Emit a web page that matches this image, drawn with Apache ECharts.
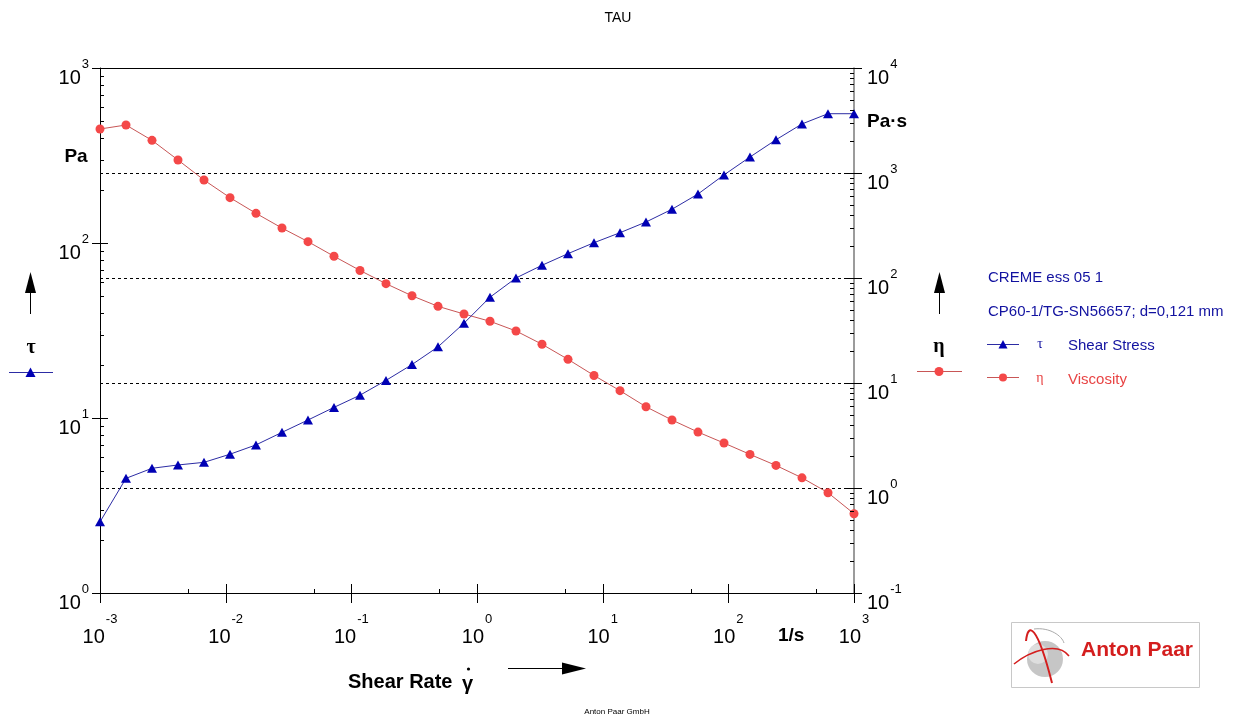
<!DOCTYPE html>
<html>
<head>
<meta charset="utf-8">
<script src="https://cdn.jsdelivr.net/npm/echarts@6/dist/echarts.min.js"></script>
<style>
html,body{margin:0;padding:0;background:#fff;}
#c{width:1237px;height:718px;}
</style>
</head>
<body>
<div id="c"></div>
<script>
// ---------------- data ----------------
const shearRate = [0.001, 0.00161, 0.002593, 0.004175, 0.006723, 0.01083, 0.01743, 0.02807, 0.0452, 0.07279,
  0.1172, 0.1887, 0.3039, 0.4894, 0.788, 1.269, 2.043, 3.29, 5.298, 8.532,
  13.74, 22.12, 35.62, 57.36, 92.36, 148.7, 239.5, 385.6, 620.9, 1000];
const shearStress = [2.55, 4.52, 5.16, 5.39, 5.58, 6.21, 7.02, 8.28, 9.74, 11.5,
  13.5, 16.4, 20.2, 25.5, 34.8, 49.0, 63.1, 74.6, 86.9, 100.4,
  114.5, 131.8, 155.9, 190.5, 245, 310, 389, 479, 548, 548];
const viscosity = [2624, 2866, 2046, 1330, 857, 582, 413, 299, 222, 161,
  118, 88.3, 67.7, 53.7, 45.4, 38.7, 31.3, 23.4, 16.8, 11.8,
  8.45, 5.94, 4.44, 3.41, 2.68, 2.09, 1.64, 1.25, 0.902, 0.569];

const xDecades = [-3, -2, -1, 0, 1, 2, 3];
const tauDecades = [0, 1, 2, 3];
const etaDecades = [-1, 0, 1, 2, 3, 4];

const titleText = 'TAU';
const sampleName = 'CREME ess 05 1';
const measInfo = 'CP60-1/TG-SN56657; d=0,121 mm';
const tauName = 'Shear Stress';
const etaName = 'Viscosity';
const xTitle = 'Shear Rate';
const footer = 'Anton Paar GmbH';
const logoText = 'Anton Paar';

// ---------------- style ----------------
const SANS = '"Liberation Sans", Arial, sans-serif';
const SERIF = '"Liberation Serif", "Times New Roman", serif';
const BLUE = '#0000b4';
const BLUE_LINE = '#2c2ca4';
const BLUE_TEXT = '#1212a0';
const RED = '#f44848';
const RED_LINE = '#c85656';
const RED_TEXT = '#e84444';

const xMin = Math.pow(10, xDecades[0]), xMax = Math.pow(10, xDecades[xDecades.length - 1]);
const tauMin = Math.pow(10, tauDecades[0]), tauMax = Math.pow(10, tauDecades[tauDecades.length - 1]);
const etaMin = Math.pow(10, etaDecades[0]), etaMax = Math.pow(10, etaDecades[etaDecades.length - 1]);

function powLabel(v) {
  const e = Math.round(Math.log10(v));
  return '{b|10}{s|' + e + '}';
}
function rich(lh) {
  return {
    b: {fontFamily: SANS, fontSize: 20, lineHeight: lh, verticalAlign: 'bottom', color: '#000'},
    s: {fontFamily: SANS, fontSize: 13, lineHeight: 13, verticalAlign: 'top', color: '#000', padding: [0, 0, 0, 1]}
  };
}

const chart = echarts.init(document.getElementById('c'), null, {renderer: 'canvas'});

function px(v) { return Math.round(v) + 0.5; }
function tl(x1, y1, x2, y2) {
  return {type: 'line', shape: {x1: x1, y1: y1, x2: x2, y2: y2}, style: {stroke: '#000', lineWidth: 1}, silent: true};
}

function ticksLeftBottom(params, api) {
  const ch = [];
  // bottom axis
  xDecades.forEach(function (e, i) {
    const p = api.coord([Math.pow(10, e), tauMin]);
    const x = px(p[0]), y = Math.round(p[1]);
    ch.push(tl(x, y - 9, x, y + 10));
    if (i < xDecades.length - 1) {
      const q = api.coord([5 * Math.pow(10, e), tauMin]);
      ch.push(tl(px(q[0]), y - 4, px(q[0]), y));
    }
  });
  // left axis
  tauDecades.forEach(function (e, i) {
    const p = api.coord([xMin, Math.pow(10, e)]);
    const x = Math.round(p[0]), y = px(p[1]);
    ch.push(tl(x - 8, y, x + 8, y));
    if (i < tauDecades.length - 1) {
      for (let k = 2; k <= 9; k++) {
        const q = api.coord([xMin, k * Math.pow(10, e)]);
        ch.push(tl(x, px(q[1]), x + 4, px(q[1])));
      }
    }
  });
  return {type: 'group', children: ch};
}
function ticksRight(params, api) {
  const ch = [];
  etaDecades.forEach(function (e, i) {
    const p = api.coord([xMax, Math.pow(10, e)]);
    const x = Math.round(p[0]), y = px(p[1]);
    ch.push(tl(x - 8, y, x + 8, y));
    if (i < etaDecades.length - 1) {
      for (let k = 2; k <= 9; k++) {
        const q = api.coord([xMax, k * Math.pow(10, e)]);
        ch.push(tl(x - 4, px(q[1]), x, px(q[1])));
      }
    }
  });
  return {type: 'group', children: ch};
}

const option = {
  animation: false,
  backgroundColor: '#fff',
  grid: {left: 100, top: 68, width: 754, height: 525, show: false, containLabel: false, outerBoundsMode: 'none'},
  xAxis: [
    {
      type: 'log', logBase: 10, min: xMin, max: xMax, position: 'bottom',
      axisLine: {show: true, lineStyle: {color: '#000', width: 1}},
      axisTick: {show: false}, minorTick: {show: false},
      splitLine: {show: false},
      axisLabel: {margin: 20, formatter: powLabel, rich: rich(34), hideOverlap: false, showMinLabel: true, showMaxLabel: true}
    },
    {
      type: 'log', logBase: 10, min: xMin, max: xMax, position: 'top',
      axisLine: {show: true, lineStyle: {color: '#000', width: 1}},
      axisTick: {show: false}, axisLabel: {show: false}, splitLine: {show: false}
    }
  ],
  yAxis: [
    {
      type: 'log', logBase: 10, min: tauMin, max: tauMax, position: 'left',
      axisLine: {show: true, lineStyle: {color: '#000', width: 1}},
      axisTick: {show: false}, splitLine: {show: false},
      axisLabel: {margin: 11, padding: [10, 0, 0, 0], formatter: powLabel, rich: rich(31), showMinLabel: true, showMaxLabel: true}
    },
    {
      type: 'log', logBase: 10, min: etaMin, max: etaMax, position: 'right',
      axisLine: {show: true, lineStyle: {color: '#7a7a7a', width: 1.5}},
      axisTick: {show: false},
      splitLine: {show: true, lineStyle: {color: '#000', width: 1, type: [3, 3]}},
      axisLabel: {margin: 13, padding: [10, 0, 0, 0], formatter: powLabel, rich: rich(31), showMinLabel: true, showMaxLabel: true}
    }
  ],
  series: [
    {
      type: 'custom', xAxisIndex: 0, yAxisIndex: 0, clip: false, silent: true, z: 5,
      data: [[1, 10]], renderItem: ticksLeftBottom
    },
    {
      type: 'custom', xAxisIndex: 0, yAxisIndex: 1, clip: false, silent: true, z: 5,
      data: [[1, 1]], renderItem: ticksRight
    },
    {
      name: etaName, type: 'line', xAxisIndex: 0, yAxisIndex: 1,
      data: shearRate.map(function (x, i) { return [x, viscosity[i]]; }),
      symbol: 'circle', symbolSize: 9, showSymbol: true,
      itemStyle: {color: RED},
      lineStyle: {color: RED_LINE, width: 1},
      z: 3
    },
    {
      name: tauName, type: 'line', xAxisIndex: 0, yAxisIndex: 0,
      data: shearRate.map(function (x, i) { return [x, shearStress[i]]; }),
      symbol: 'triangle', symbolSize: [10, 9], showSymbol: true,
      itemStyle: {color: BLUE},
      lineStyle: {color: BLUE_LINE, width: 1},
      z: 4
    }
  ],
  graphic: {
    elements: [
      {type: 'text', x: 618, y: 18, style: {text: titleText, font: '14px ' + SANS, fill: '#000', align: 'center', verticalAlign: 'middle'}},
      // left axis decorations
      {type: 'text', x: 76, y: 157, style: {text: 'Pa', font: 'bold 19px ' + SANS, fill: '#000', align: 'center', verticalAlign: 'middle'}},
      {type: 'polygon', shape: {points: [[30.5, 272], [25, 293], [36, 293]]}, style: {fill: '#000'}},
      {type: 'line', shape: {x1: 30.5, y1: 292, x2: 30.5, y2: 314}, style: {stroke: '#000', lineWidth: 1}},
      {type: 'text', x: 31, y: 348, style: {text: 'τ', font: 'bold 20px ' + SERIF, fill: '#000', align: 'center', verticalAlign: 'middle'}},
      {type: 'line', shape: {x1: 9, y1: 372.5, x2: 53, y2: 372.5}, style: {stroke: BLUE_LINE, lineWidth: 1}},
      {type: 'polygon', shape: {points: [[30.5, 367.5], [25.5, 377], [35.5, 377]]}, style: {fill: BLUE}},
      // right axis decorations
      {type: 'text', x: 867, y: 122, style: {text: 'Pa·s', font: 'bold 19px ' + SANS, fill: '#000', align: 'left', verticalAlign: 'middle'}},
      {type: 'polygon', shape: {points: [[939.5, 272], [934, 293], [945, 293]]}, style: {fill: '#000'}},
      {type: 'line', shape: {x1: 939.5, y1: 292, x2: 939.5, y2: 314}, style: {stroke: '#000', lineWidth: 1}},
      {type: 'text', x: 939, y: 347, style: {text: 'η', font: 'bold 20px ' + SERIF, fill: '#000', align: 'center', verticalAlign: 'middle'}},
      {type: 'line', shape: {x1: 917, y1: 371.5, x2: 962, y2: 371.5}, style: {stroke: RED_LINE, lineWidth: 1}},
      {type: 'circle', shape: {cx: 939, cy: 371.5, r: 4.5}, style: {fill: RED}},
      // legend block
      {type: 'text', x: 988, y: 278, style: {text: sampleName, font: '15px ' + SANS, fill: BLUE_TEXT, align: 'left', verticalAlign: 'middle'}},
      {type: 'text', x: 988, y: 312, style: {text: measInfo, font: '15px ' + SANS, fill: BLUE_TEXT, align: 'left', verticalAlign: 'middle'}},
      {type: 'line', shape: {x1: 987, y1: 344.5, x2: 1019, y2: 344.5}, style: {stroke: BLUE_LINE, lineWidth: 1}},
      {type: 'polygon', shape: {points: [[1003, 340], [998.5, 348.5], [1007.5, 348.5]]}, style: {fill: BLUE}},
      {type: 'text', x: 1040, y: 344, style: {text: 'τ', font: '14px ' + SERIF, fill: BLUE_TEXT, align: 'center', verticalAlign: 'middle'}},
      {type: 'text', x: 1068, y: 346, style: {text: tauName, font: '15px ' + SANS, fill: BLUE_TEXT, align: 'left', verticalAlign: 'middle'}},
      {type: 'line', shape: {x1: 987, y1: 377.5, x2: 1019, y2: 377.5}, style: {stroke: RED_LINE, lineWidth: 1}},
      {type: 'circle', shape: {cx: 1003, cy: 377.5, r: 4}, style: {fill: RED}},
      {type: 'text', x: 1040, y: 378, style: {text: 'η', font: '14px ' + SERIF, fill: RED_TEXT, align: 'center', verticalAlign: 'middle'}},
      {type: 'text', x: 1068, y: 380, style: {text: etaName, font: '15px ' + SANS, fill: RED_TEXT, align: 'left', verticalAlign: 'middle'}},
      // bottom
      {type: 'text', x: 778, y: 636, style: {text: '1/s', font: 'bold 19px ' + SANS, fill: '#000', align: 'left', verticalAlign: 'middle'}},
      {type: 'text', x: 348, y: 682, style: {text: xTitle, font: 'bold 20px ' + SANS, fill: '#000', align: 'left', verticalAlign: 'middle'}},
      {type: 'text', x: 462, y: 684, style: {text: 'γ', font: 'bold 20px ' + SANS, fill: '#000', align: 'left', verticalAlign: 'middle'}},
      {type: 'circle', shape: {cx: 468.5, cy: 669, r: 1.6}, style: {fill: '#000'}},
      {type: 'line', shape: {x1: 508, y1: 668.5, x2: 564, y2: 668.5}, style: {stroke: '#000', lineWidth: 1}},
      {type: 'polygon', shape: {points: [[586, 668.5], [562, 662.5], [562, 674.5]]}, style: {fill: '#000'}},
      {type: 'text', x: 617, y: 712, style: {text: footer, font: '8px ' + SANS, fill: '#000', align: 'center', verticalAlign: 'middle'}},
      // logo
      {type: 'rect', shape: {x: 1011.5, y: 622.5, width: 188, height: 65}, style: {fill: '#fff', stroke: '#c8c8c8', lineWidth: 1}},
      {type: 'circle', shape: {cx: 1045, cy: 659, r: 18}, style: {fill: '#c6c6c6'}},
      {type: 'circle', shape: {cx: 1038, cy: 654, r: 10}, style: {fill: '#dedede'}},
      {type: 'bezierCurve', shape: {x1: 1034, y1: 629, cpx1: 1050, cpy1: 627, cpx2: 1062, cpy2: 636, x2: 1064, y2: 643}, style: {stroke: '#aaaaaa', lineWidth: 1, fill: null}},
      {type: 'bezierCurve', shape: {x1: 1026, y1: 641, cpx1: 1028, cpy1: 622, cpx2: 1037, cpy2: 624, x2: 1052, y2: 683}, style: {stroke: '#d41e1e', lineWidth: 2, fill: null}},
      {type: 'bezierCurve', shape: {x1: 1014, y1: 664, cpx1: 1030, cpy1: 651, cpx2: 1058, cpy2: 641, x2: 1069, y2: 656}, style: {stroke: '#d41e1e', lineWidth: 1.6, fill: null}},
      {type: 'text', x: 1081, y: 650, style: {text: logoText, font: 'bold 21px ' + SANS, fill: '#d41e1e', align: 'left', verticalAlign: 'middle'}}
    ]
  }
};
chart.setOption(option);
</script>
</body>
</html>
